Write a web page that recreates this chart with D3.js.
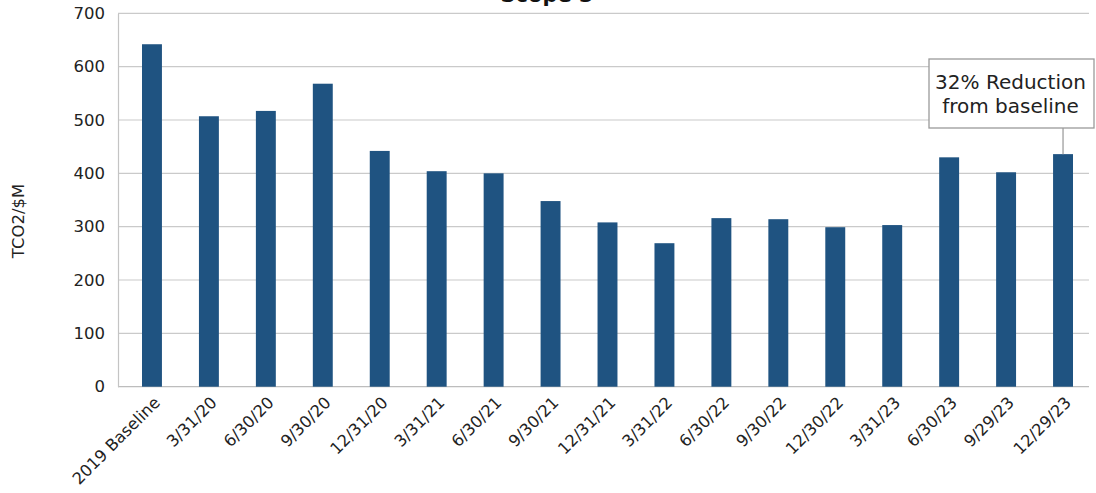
<!DOCTYPE html>
<html>
<head>
<meta charset="utf-8">
<script src="https://cdn.jsdelivr.net/npm/d3@7/dist/d3.min.js"></script>
<style>
  html, body { margin: 0; padding: 0; background: #fff; }
  svg { display: block; font-family: "DejaVu Sans", sans-serif; }
</style>
</head>
<body>
<svg id="chart" width="1096" height="493"></svg>
<script>
// Scope 3 intensity by reporting period
const categories = ["2019 Baseline", "3/31/20", "6/30/20", "9/30/20", "12/31/20", "3/31/21",
  "6/30/21", "9/30/21", "12/31/21", "3/31/22", "6/30/22", "9/30/22", "12/30/22",
  "3/31/23", "6/30/23", "9/29/23", "12/29/23"];
const values = [642, 507, 517, 568, 442, 404, 400, 348, 308, 269, 316, 314, 299, 303, 430, 402, 436];
const yTicks = [0, 100, 200, 300, 400, 500, 600, 700];
const noteLines = ["32% Reduction", "from baseline"];
const noteCategory = "12/29/23";

const FONT = "'DejaVu Sans', sans-serif";
const svg = d3.select("#chart");
const plotLeft = 118, plotRight = 1089, plotTop = 13.3, plotBottom = 386.7;

const x = d3.scaleBand()
  .domain(categories)
  .range([123.5, 1091.5])
  .paddingInner(0.65)
  .paddingOuter(0.325);

const y = d3.scaleLinear().domain([0, 700]).range([plotBottom, plotTop]);

// gridlines
svg.append("g")
  .selectAll("line")
  .data(yTicks)
  .join("line")
  .attr("x1", plotLeft).attr("x2", plotRight)
  .attr("y1", d => y(d)).attr("y2", d => y(d))
  .attr("stroke", d => d === 0 ? "#bdbdbd" : "#cacaca")
  .attr("stroke-width", 1.2);

// y axis
const yAxis = svg.append("g")
  .attr("transform", `translate(${plotLeft},0)`)
  .call(d3.axisLeft(y).tickValues(yTicks).tickSize(0).tickPadding(13));
yAxis.select(".domain").attr("stroke", "#c4c4c4").attr("stroke-width", 1.2);
yAxis.selectAll("text").attr("font-size", 16.5).attr("fill", "#222").style("font-family", FONT);

// bars
svg.append("g")
  .selectAll("rect")
  .data(categories.map((c, i) => ({ c, v: values[i] })))
  .join("rect")
  .attr("x", d => x(d.c))
  .attr("width", x.bandwidth())
  .attr("y", d => y(d.v))
  .attr("height", d => y(0) - y(d.v))
  .attr("fill", "#1f5381");

// x axis labels
const xAxis = svg.append("g")
  .attr("transform", `translate(0,${plotBottom})`)
  .call(d3.axisBottom(x).tickSize(0).tickPadding(0));
xAxis.select(".domain").remove();
xAxis.selectAll("text")
  .attr("font-size", 16.3)
  .attr("fill", "#222")
  .style("font-family", FONT)
  .attr("text-anchor", "end")
  .attr("dy", 0)
  .attr("transform", "translate(9,17) rotate(-45)");

// y axis title
svg.append("text")
  .attr("transform", "translate(24,221) rotate(-90)")
  .attr("text-anchor", "middle")
  .attr("font-size", 16.5)
  .attr("fill", "#222")
  .text("TCO2/$M");

// chart title (partly above the page)
svg.append("text")
  .attr("x", 547).attr("y", 2)
  .attr("text-anchor", "middle")
  .attr("font-size", 21)
  .attr("font-weight", "bold")
  .attr("fill", "#111")
  .text("Scope 3");

// callout
const noteX = x(noteCategory) + x.bandwidth() / 2;
const noteV = values[categories.indexOf(noteCategory)];
const boxL = 929, boxR = 1094, boxT = 59, boxB = 128;
svg.append("line")
  .attr("x1", noteX).attr("x2", noteX)
  .attr("y1", boxB).attr("y2", y(noteV))
  .attr("stroke", "#9e9e9e").attr("stroke-width", 1.3);
svg.append("rect")
  .attr("x", boxL).attr("y", boxT)
  .attr("width", boxR - boxL).attr("height", boxB - boxT)
  .attr("fill", "#fff").attr("stroke", "#9a9a9a").attr("stroke-width", 1.3);
svg.append("text")
  .attr("text-anchor", "middle")
  .attr("font-size", 20)
  .attr("fill", "#222")
  .selectAll("tspan")
  .data(noteLines)
  .join("tspan")
  .attr("x", (boxL + boxR) / 2 - 1)
  .attr("y", (d, i) => 89 + i * 24)
  .text(d => d);
</script>
</body>
</html>
